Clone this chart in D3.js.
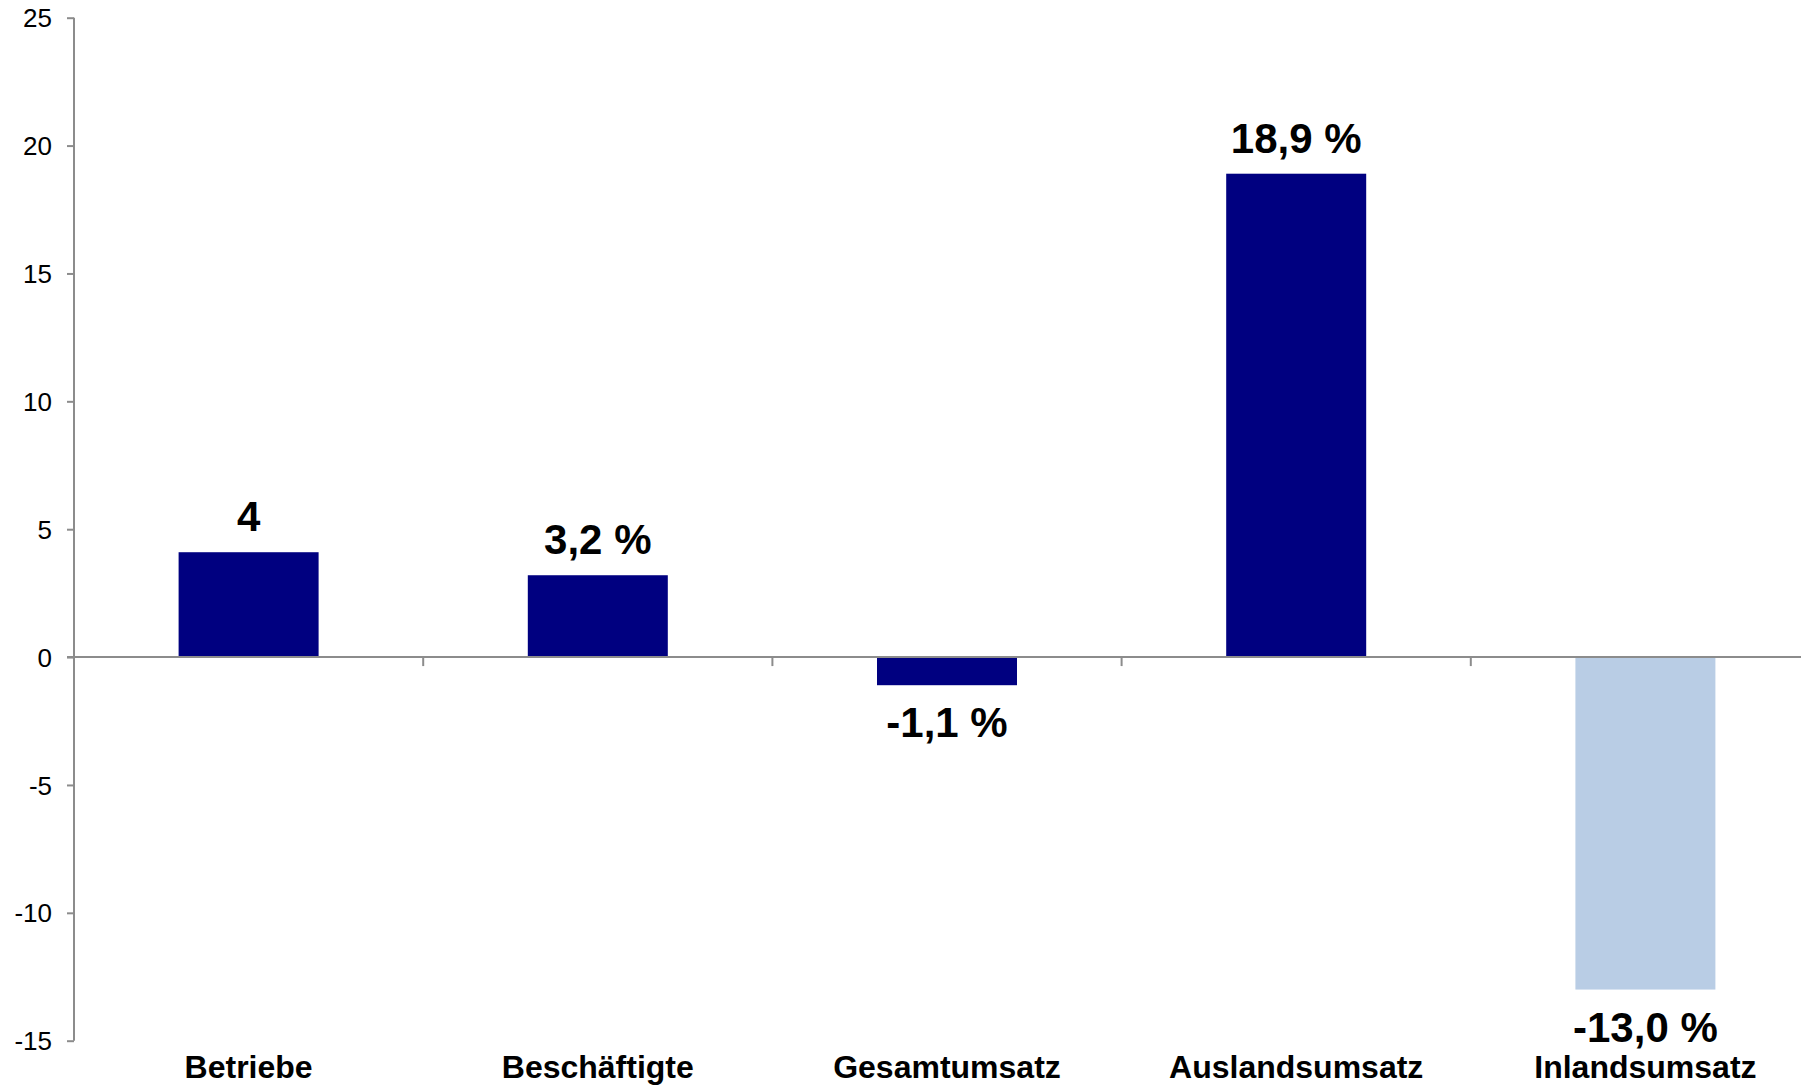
<!DOCTYPE html>
<html><head><meta charset="utf-8">
<script src="https://cdn.jsdelivr.net/npm/d3@7"></script>
<style>body{margin:0;background:#fff}svg{display:block}text{font-family:"Liberation Sans",Arial,sans-serif}</style>
</head><body>
<script>
const categories = ["Betriebe","Beschäftigte","Gesamtumsatz","Auslandsumsatz","Inlandsumsatz"];
const values = [4.1, 3.2, -1.1, 18.9, -13.0];
const valueLabels = ["4","3,2 %","-1,1 %","18,9 %","-13,0 %"];
const barColors = ["#000080","#000080","#000080","#000080","#b9cde5"];
const yTicks = [25,20,15,10,5,0,-5,-10,-15];

const W=1801,H=1088;
const svg=d3.select("body").append("svg").attr("width",W).attr("height",H);
const x=d3.scaleBand().domain(categories).range([74,1820]).paddingInner(0).paddingOuter(0);
const y=d3.scaleLinear().domain([-15,25]).range([1040.7,17.7]);
const axisColor="#8c8c8c";
const barW=140;

// bars
svg.selectAll("rect.bar").data(categories).enter().append("rect")
  .attr("x",(d)=>x(d)+x.bandwidth()/2-barW/2)
  .attr("width",barW)
  .attr("y",(d,i)=>y(Math.max(0,values[i])))
  .attr("height",(d,i)=>Math.abs(y(values[i])-y(0)))
  .attr("fill",(d,i)=>barColors[i]);

// y axis
const yAxis=d3.axisLeft(y).tickValues(yTicks).tickSize(7).tickPadding(15).tickFormat(d=>String(d));
const gy=svg.append("g").attr("transform","translate(74,0)").call(yAxis);
gy.select(".domain").attr("stroke",axisColor).attr("stroke-width",2).attr("d","M0,17.7V1040.7");
gy.selectAll(".tick line").attr("stroke",axisColor).attr("stroke-width",2);
gy.selectAll(".tick text").attr("font-size",26).attr("fill","#000").attr("font-family","Liberation Sans, Arial, sans-serif").attr("dy","0.35em");

// x axis at zero
const boundaries=categories.slice(1).map(c=>x(c));
const gx=svg.append("g");
gx.append("line").attr("x1",67).attr("x2",W).attr("y1",y(0)).attr("y2",y(0)).attr("stroke",axisColor).attr("stroke-width",2);
gx.selectAll("line.t").data(boundaries).enter().append("line")
  .attr("x1",d=>d).attr("x2",d=>d).attr("y1",y(0)).attr("y2",y(0)+9)
  .attr("stroke",axisColor).attr("stroke-width",2);

// category labels
svg.selectAll("text.cat").data(categories).enter().append("text")
  .attr("x",d=>x(d)+x.bandwidth()/2).attr("y",1078)
  .attr("text-anchor","middle").attr("font-size",32).attr("font-weight","bold").attr("fill","#000")
  .text(d=>d);

// value labels
svg.selectAll("text.val").data(categories).enter().append("text")
  .attr("x",d=>x(d)+x.bandwidth()/2)
  .attr("y",(d,i)=>values[i]>=0? y(values[i])-21 : y(values[i])+52)
  .attr("text-anchor","middle").attr("font-size",42).attr("font-weight","bold").attr("fill","#000")
  .text((d,i)=>valueLabels[i]);
</script>
</body></html>
